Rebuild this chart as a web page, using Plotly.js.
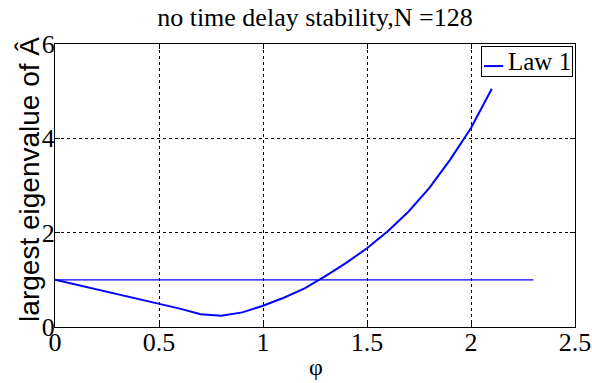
<!DOCTYPE html>
<html>
<head>
<meta charset="utf-8">
<script src="https://cdn.plot.ly/plotly-3.0.1.min.js"></script>
<style>html,body{margin:0;padding:0;background:#fff;}#chart{width:592px;height:383px;}</style>
</head>
<body>
<div id="chart"></div>
<script>
const phi = [0, 0.1, 0.2, 0.3, 0.4, 0.5, 0.6, 0.7, 0.8, 0.9, 1.0, 1.1, 1.2, 1.3, 1.4, 1.5, 1.6, 1.7, 1.8, 1.9, 2.0, 2.1];
const law1 = [1.0, 0.9, 0.8, 0.7, 0.6, 0.5, 0.39, 0.27, 0.24, 0.31, 0.45, 0.62, 0.82, 1.08, 1.36, 1.67, 2.03, 2.45, 2.95, 3.55, 4.22, 5.05];
const refX = [0, 2.3];
const refY = [1, 1];
const xTicks = [0, 0.5, 1, 1.5, 2, 2.5];
const xTickText = ['0', '0.5', '1', '1.5', '2', '2.5'];
const yTicks = [0, 2, 4, 6];
const yTickText = ['0', '2', '4', '6'];
const seriesName = 'Law 1';

const serif = '"Liberation Serif", "Times New Roman", serif';
const sans = '"Liberation Sans", Arial, sans-serif';
const traces = [
  {x: phi, y: law1, mode: 'lines', name: seriesName, line: {color: '#0000ff', width: 2}},
  {x: refX, y: refY, mode: 'lines', showlegend: false, line: {color: '#0000ff', width: 1.2}}
];
const layout = {
  width: 592, height: 383,
  margin: {l: 55, r: 17, t: 44, b: 56},
  paper_bgcolor: '#fff', plot_bgcolor: '#fff',
  showlegend: false,
  title: {text: 'no time delay stability,N =128', font: {family: serif, size: 26, color: '#000'}, x: 0.532, xanchor: 'center', y: 0.955, yanchor: 'middle'},
  xaxis: {
    range: [0, 2.5], tickvals: xTicks, ticktext: xTickText,
    showline: true, mirror: 'ticks', linecolor: '#000', linewidth: 1,
    ticks: 'inside', ticklen: 5, tickcolor: '#000',
    showgrid: true, gridcolor: '#000', griddash: 'dot', gridwidth: 1,
    zeroline: false,
    tickfont: {family: serif, size: 26, color: '#000'},
    ticklabelstandoff: -8
  },
  yaxis: {
    range: [0, 6], tickvals: yTicks, ticktext: yTickText,
    showline: true, mirror: 'ticks', linecolor: '#000', linewidth: 1,
    ticks: 'inside', ticklen: 5, tickcolor: '#000',
    showgrid: true, gridcolor: '#000', griddash: 'dot', gridwidth: 1,
    zeroline: false,
    tickfont: {family: serif, size: 26, color: '#000'},
    ticklabelstandoff: -6
  },
  annotations: [
    {text: 'largest eigenvalue of Â', textangle: -90, xref: 'paper', yref: 'paper',
     x: -0.048, y: 0.52, xanchor: 'center', yanchor: 'middle', showarrow: false,
     font: {family: sans, size: 28, color: '#000'}},
    {text: 'φ', xref: 'paper', yref: 'paper', x: 0.502, y: -0.14,
     xanchor: 'center', yanchor: 'middle', showarrow: false,
     font: {family: serif, size: 24, color: '#000'}},
    {text: '&nbsp;&nbsp;&nbsp;&nbsp;' + seriesName, xref: 'paper', yref: 'paper',
     x: 0.9955, y: 0.992, xanchor: 'right', yanchor: 'top', showarrow: false,
     bgcolor: 'rgba(0,0,0,0)', bordercolor: '#000', borderwidth: 1, borderpad: 1,
     font: {family: serif, size: 25, color: '#000'}}
  ],
  shapes: [
    {type: 'line', xref: 'paper', yref: 'paper', x0: 0.825, x1: 0.862, y0: 0.922, y1: 0.922,
     layer: 'above', line: {color: '#0000ff', width: 2}}
  ]
};
Plotly.newPlot('chart', traces, layout, {displayModeBar: false, staticPlot: true});
</script>
</body>
</html>
